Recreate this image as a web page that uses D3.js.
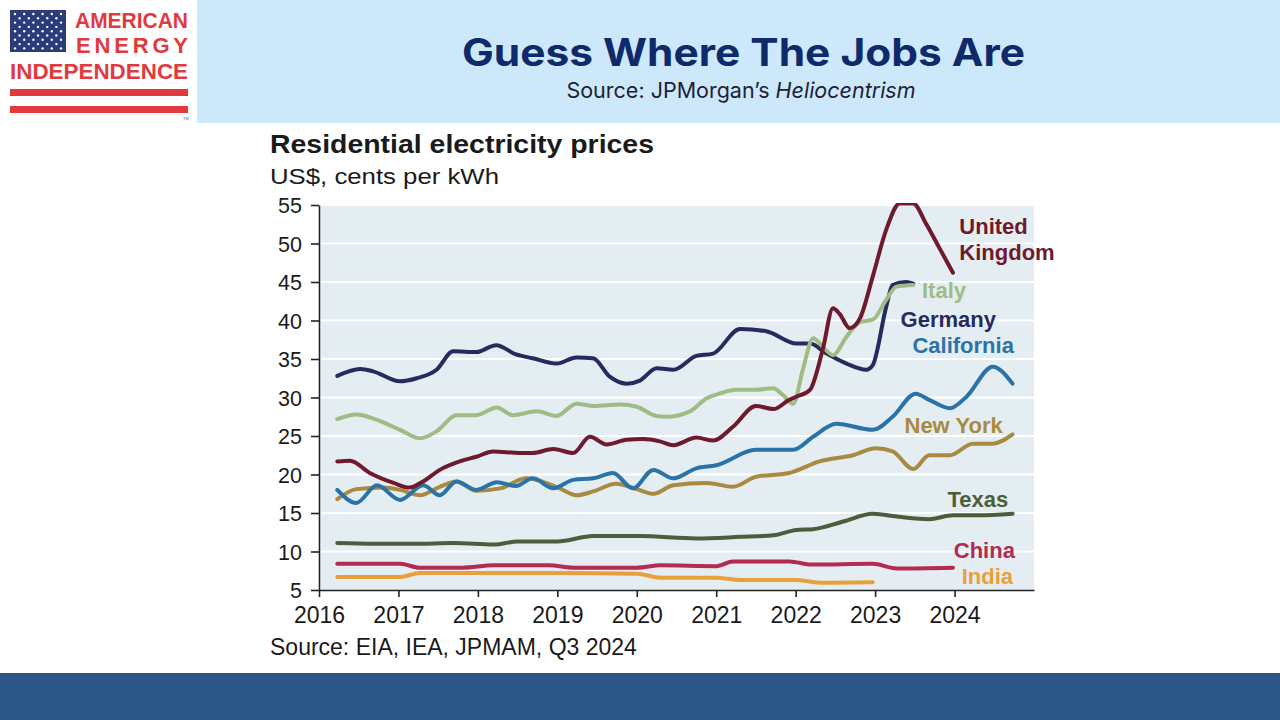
<!DOCTYPE html>
<html>
<head>
<meta charset="utf-8">
<script src="https://cdn.jsdelivr.net/npm/d3@7"></script>
<style>
  html, body { margin: 0; padding: 0; background: #ffffff; }
  svg { display: block; }
</style>
</head>
<body>
<div class="chartDiv"></div>
<script>
"use strict";

// Data: [year, US cents per kWh]
var ukData = [[2016.23,21.7],[2016.39,21.8],[2016.64,20.2],[2016.94,18.9],[2017.14,18.3],[2017.31,19.1],[2017.52,20.6],[2017.77,21.7],[2017.98,22.3],[2018.19,23.0],[2018.53,22.8],[2018.69,22.8],[2018.95,23.3],[2019.20,22.8],[2019.41,24.9],[2019.62,23.9],[2019.87,24.5],[2020.08,24.6],[2020.29,24.3],[2020.46,23.8],[2020.75,24.8],[2020.96,24.4],[2021.21,26.2],[2021.50,28.9],[2021.72,28.5],[2021.92,29.7],[2022.01,30.1],[2022.18,31.0],[2022.34,36.2],[2022.47,41.6],[2022.55,40.9],[2022.68,39.0],[2022.81,40.3],[2022.97,45.7],[2023.14,51.8],[2023.31,55.2],[2023.48,55.2],[2023.64,52.6],[2023.81,49.4],[2023.98,46.2]];
var germanyData = [[2016.23,32.8],[2016.52,33.7],[2016.68,33.4],[2017.02,32.1],[2017.23,32.5],[2017.48,33.6],[2017.69,36.0],[2017.98,35.9],[2018.23,36.8],[2018.48,35.6],[2018.69,35.1],[2018.99,34.4],[2019.24,35.2],[2019.45,35.1],[2019.66,32.7],[2019.87,31.8],[2020.04,32.2],[2020.25,33.8],[2020.46,33.6],[2020.75,35.4],[2020.96,35.7],[2021.30,38.9],[2021.63,38.6],[2022.01,37.0],[2022.18,37.0],[2022.39,35.7],[2022.64,34.4],[2022.89,33.6],[2022.97,34.2],[2023.14,41.8],[2023.22,44.6],[2023.39,45.0],[2023.48,44.8]];
var italyData = [[2016.23,27.2],[2016.47,27.8],[2016.73,27.1],[2017.02,25.8],[2017.27,24.7],[2017.48,25.6],[2017.73,27.7],[2017.98,27.7],[2018.24,28.7],[2018.44,27.7],[2018.74,28.2],[2018.99,27.6],[2019.24,29.2],[2019.45,28.9],[2019.79,29.1],[2020.0,28.8],[2020.25,27.6],[2020.37,27.5],[2020.67,28.2],[2020.88,29.9],[2021.04,30.5],[2021.25,31.0],[2021.50,31.0],[2021.72,31.2],[2021.84,30.3],[2021.97,29.2],[2022.09,33.6],[2022.22,37.7],[2022.34,36.6],[2022.47,35.5],[2022.64,37.9],[2022.81,39.8],[2022.97,40.1],[2023.14,42.7],[2023.27,44.4],[2023.48,44.6]];
var californiaData = [[2016.23,18.0],[2016.47,16.3],[2016.73,18.6],[2017.02,16.7],[2017.31,18.6],[2017.52,17.3],[2017.73,19.1],[2017.98,18.0],[2018.24,19.0],[2018.48,18.5],[2018.69,19.5],[2018.95,18.2],[2019.20,19.3],[2019.45,19.5],[2019.70,20.2],[2019.95,18.2],[2020.21,20.6],[2020.46,19.5],[2020.75,20.8],[2021.0,21.2],[2021.50,23.2],[2021.97,23.2],[2022.22,24.9],[2022.51,26.6],[2022.97,25.8],[2023.22,27.5],[2023.51,30.5],[2023.68,29.7],[2023.94,28.6],[2024.15,30.1],[2024.48,34.0],[2024.73,31.8]];
var newYorkData = [[2016.23,16.8],[2016.47,18.1],[2016.81,18.3],[2017.02,18.0],[2017.27,17.3],[2017.52,18.4],[2017.73,19.1],[2017.98,17.9],[2018.28,18.2],[2018.61,19.5],[2018.74,19.3],[2019.03,18.2],[2019.24,17.3],[2019.45,17.8],[2019.74,18.8],[2020.0,18.1],[2020.21,17.5],[2020.46,18.6],[2020.88,18.9],[2021.21,18.4],[2021.50,19.7],[2021.92,20.2],[2022.30,21.7],[2022.72,22.5],[2023.01,23.4],[2023.22,23.0],[2023.48,20.7],[2023.68,22.5],[2023.94,22.5],[2024.23,24.0],[2024.48,24.0],[2024.73,25.2]];
var texasData = [[2016.23,11.1],[2016.7,11.0],[2017.2,11.0],[2017.7,11.1],[2018.2,10.9],[2018.5,11.3],[2019.0,11.3],[2019.45,12.0],[2020.04,12.0],[2020.75,11.7],[2021.3,11.9],[2021.72,12.1],[2022.01,12.8],[2022.22,12.9],[2022.6,13.9],[2022.97,14.9],[2023.3,14.5],[2023.68,14.2],[2023.98,14.7],[2024.3,14.7],[2024.73,14.9]];
var chinaData = [[2016.23,8.4],[2017.02,8.4],[2017.27,7.9],[2017.8,7.9],[2018.2,8.2],[2018.9,8.2],[2019.2,7.9],[2020.0,7.9],[2020.3,8.2],[2021.0,8.1],[2021.21,8.7],[2021.92,8.7],[2022.2,8.3],[2022.97,8.4],[2023.27,7.8],[2023.98,7.9]];
var indiaData = [[2016.23,6.7],[2017.02,6.7],[2017.27,7.2],[2018.0,7.2],[2019.0,7.2],[2020.0,7.1],[2020.3,6.6],[2021.0,6.6],[2021.3,6.3],[2022.0,6.3],[2022.3,5.95],[2022.97,6.0]];

var yTicks = [5, 10, 15, 20, 25, 30, 35, 40, 45, 50, 55];
var xTicks = [2016, 2017, 2018, 2019, 2020, 2021, 2022, 2023, 2024];

// Series: name, data, colour, label lines, label anchor [year, value]
var series = [
    { name: "India",      data: indiaData,      color: "#e8a03c", lines: ["India"],             at: [2024.09, 5.8] },
    { name: "China",      data: chinaData,      color: "#b52a50", lines: ["China"],             at: [2023.99, 9.15] },
    { name: "Texas",      data: texasData,      color: "#4b5e3c", lines: ["Texas"],             at: [2023.91, 15.8] },
    { name: "New York",   data: newYorkData,    color: "#a88a40", lines: ["New York"],          at: [2023.37, 25.4] },
    { name: "California", data: californiaData, color: "#2a73a8", lines: ["California"],        at: [2023.47, 35.8] },
    { name: "Germany",    data: germanyData,    color: "#262a5e", lines: ["Germany"],           at: [2023.32, 39.2] },
    { name: "Italy",      data: italyData,      color: "#9dbd85", lines: ["Italy"],             at: [2023.59, 42.9] },
    { name: "United Kingdom", data: ukData,     color: "#6e1a2c", lines: ["United", "Kingdom"], at: [2024.06, 51.2] }
];

var width = 1280, height = 720;

var svg = d3.select(".chartDiv").append("svg")
    .attr("width", width)
    .attr("height", height);

//
/* Slide header and footer */
//
svg.append("rect").attr("x", 197).attr("y", 0).attr("width", width - 197).attr("height", 123).attr("fill", "#cde8fb");
svg.append("rect").attr("x", 0).attr("y", 673).attr("width", width).attr("height", 47).attr("fill", "#2b5685");

svg.append("text")
    .attr("x", 462).attr("y", 66)
    .attr("textLength", 563).attr("lengthAdjust", "spacingAndGlyphs")
    .attr("font-family", "Inter, 'Open Sans', sans-serif")
    .attr("font-weight", 700)
    .attr("font-size", 38)
    .attr("fill", "#0f2a6a")
    .text("Guess Where The Jobs Are");

var sub = svg.append("text")
    .attr("x", 741).attr("y", 98)
    .attr("text-anchor", "middle")
    .attr("font-family", "Inter, 'Open Sans', sans-serif")
    .attr("font-size", 21.5)
    .attr("fill", "#1c2233");
sub.append("tspan").text("Source: JPMorgan\u2019s ");
sub.append("tspan").attr("font-style", "italic").text("Heliocentrism");

// Logo
var logo = svg.append("g").attr("class", "logo");
logo.append("rect").attr("x", 10).attr("y", 10).attr("width", 56).attr("height", 42).attr("fill", "#2c3b7c");
for (var r = 0; r < 9; r++)
{
    var n = (r % 2 == 0) ? 6 : 5;
    for (var c = 0; c < n; c++)
    {
        logo.append("circle")
            .attr("cx", 15 + c * 9.2 + (r % 2 == 0 ? 0 : 4.6))
            .attr("cy", 14 + r * 4.3)
            .attr("r", 1.2)
            .attr("fill", "#ffffff");
    }
}
var logoRed = "#e03a3e";
var logoFont = "'Liberation Sans', Arial, sans-serif";
logo.append("text").attr("x", 75).attr("y", 28).attr("textLength", 113).attr("lengthAdjust", "spacingAndGlyphs")
    .attr("font-family", logoFont).attr("font-weight", 700).attr("font-size", 22).attr("fill", logoRed).text("AMERICAN");
logo.append("text").attr("x", 76).attr("y", 53).attr("textLength", 112).attr("lengthAdjust", "spacing")
    .attr("font-family", logoFont).attr("font-weight", 700).attr("font-size", 22).attr("fill", logoRed).text("ENERGY");
logo.append("text").attr("x", 10).attr("y", 79).attr("textLength", 178).attr("lengthAdjust", "spacingAndGlyphs")
    .attr("font-family", logoFont).attr("font-weight", 700).attr("font-size", 22).attr("fill", logoRed).text("INDEPENDENCE");
logo.append("rect").attr("x", 10).attr("y", 89).attr("width", 178).attr("height", 7).attr("fill", logoRed);
logo.append("rect").attr("x", 10).attr("y", 106).attr("width", 178).attr("height", 7).attr("fill", logoRed);
logo.append("text").attr("x", 183).attr("y", 120).attr("font-family", "sans-serif").attr("font-size", 4).attr("fill", "#666").text("TM");

//
/* Chart */
//
var chartFont = "'Liberation Sans', Arial, sans-serif";

svg.append("text").attr("x", 270).attr("y", 153)
    .attr("textLength", 384).attr("lengthAdjust", "spacingAndGlyphs")
    .attr("font-family", chartFont).attr("font-weight", 700).attr("font-size", 26).attr("fill", "#1a1a1a")
    .text("Residential electricity prices");
svg.append("text").attr("x", 270).attr("y", 184)
    .attr("textLength", 229).attr("lengthAdjust", "spacingAndGlyphs")
    .attr("font-family", chartFont).attr("font-size", 22).attr("fill", "#1a1a1a")
    .text("US$, cents per kWh");
svg.append("text").attr("x", 270).attr("y", 655)
    .attr("font-family", chartFont).attr("font-size", 23).attr("fill", "#1a1a1a")
    .text("Source: EIA, IEA, JPMAM, Q3 2024");

var xScale = d3.scaleLinear().domain([2016, 2025]).range([319, 1034]);
var yScale = d3.scaleLinear().domain([5, 55]).range([590, 205]);

var plot = svg.append("g").attr("class", "plot");

plot.append("rect")
    .attr("x", xScale(2016) + 2).attr("y", yScale(55))
    .attr("width", xScale(2025) - xScale(2016) - 2)
    .attr("height", yScale(5) - yScale(55))
    .attr("fill", "#e4edf2");

plot.selectAll(".grid")
    .data(yTicks.slice(1)).enter()
    .append("line")
    .attr("class", "grid")
    .attr("x1", xScale(2016) + 2).attr("x2", xScale(2025))
    .attr("y1", function(d) { return yScale(d); })
    .attr("y2", function(d) { return yScale(d); })
    .attr("stroke", "#ffffff")
    .attr("stroke-width", 2);

svg.append("clipPath").attr("id", "plotClip")
    .append("rect")
    .attr("x", xScale(2016)).attr("y", yScale(55) - 2)
    .attr("width", xScale(2025) - xScale(2016))
    .attr("height", yScale(5) - yScale(55) + 2);

var line = d3.line()
    .x(function(d) { return xScale(d[0]); })
    .y(function(d) { return yScale(d[1]); })
    .curve(d3.curveMonotoneX);

plot.append("g").attr("clip-path", "url(#plotClip)")
    .selectAll(".series")
    .data(series).enter()
    .append("path")
    .attr("class", "series")
    .attr("d", function(d) { return line(d.data); })
    .attr("fill", "none")
    .attr("stroke", function(d) { return d.color; })
    .attr("stroke-width", 4)
    .attr("stroke-linejoin", "round")
    .attr("stroke-linecap", "round");

// Axes
var yAxis = d3.axisLeft(yScale).tickValues(yTicks).tickSize(8).tickPadding(9).tickSizeOuter(0);
var xAxis = d3.axisBottom(xScale).tickValues(xTicks).tickFormat(d3.format("d")).tickSize(7).tickPadding(10).tickSizeOuter(0);

var gy = svg.append("g").attr("transform", "translate(" + xScale(2016) + ",0)").call(yAxis);
var gx = svg.append("g").attr("transform", "translate(0," + yScale(5) + ")").call(xAxis);

[gx, gy].forEach(function(g) {
    g.selectAll("path.domain").attr("stroke", "#222").attr("stroke-width", 1.6);
    g.selectAll(".tick line").attr("stroke", "#222").attr("stroke-width", 1.6);
    g.selectAll(".tick text").attr("font-family", chartFont).attr("fill", "#1a1a1a");
});
gy.selectAll(".tick text").attr("font-size", 21.5).attr("dy", "0.35em");
gx.selectAll(".tick text").attr("font-size", 23).attr("dy", "0.71em");

// Series labels
var labels = svg.append("g").attr("class", "labels");
series.forEach(function(s) {
    var t = labels.append("text")
        .attr("x", xScale(s.at[0]))
        .attr("y", yScale(s.at[1]))
        .attr("font-family", chartFont)
        .attr("font-weight", 700)
        .attr("font-size", 22)
        .attr("fill", s.color);
    s.lines.forEach(function(l, i) {
        t.append("tspan").attr("x", xScale(s.at[0])).attr("dy", i == 0 ? 0 : 26).text(l);
    });
});
</script>
</body>
</html>
